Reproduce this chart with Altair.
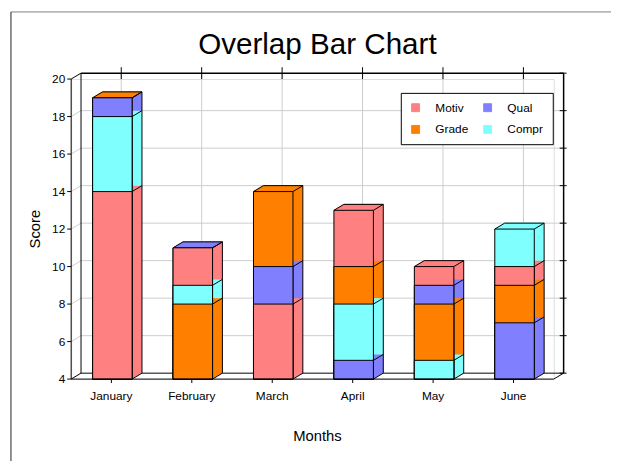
import altair as alt
import pandas as pd

months = ["January", "February", "March", "April", "May", "June"]
series = ["Motiv", "Grade", "Qual", "Compr"]
colors = ["#FF8080", "#FF8000", "#8080FF", "#80FFFF"]
motiv = [14, 11, 8, 13, 10, 10]
qual = [19, 11, 10, 5, 9, 7]
grade = [19, 8, 14, 10, 8, 9]
compr = [18, 9, None, 8, 5, 12]
yticks = [4, 6, 8, 10, 12, 14, 16, 18, 20]
inner_ticks = [6, 8, 10, 12, 14, 16, 18]
tie_rank = ["Motiv", "Qual", "Grade", "Compr"]

vals = {"Motiv": motiv, "Qual": qual, "Grade": grade, "Compr": compr}
rows = []
for s in series:
    for m, v in zip(months, vals[s]):
        if v is not None:
            rows.append({"month": m, "series": s, "value": v, "rank": tie_rank.index(s)})
df = pd.DataFrame(rows)
# overlap drawing order: tallest first, so shorter bars stay visible in front
front_df = df.sort_values(["value", "rank"], ascending=[False, False]).copy()
front_df["pos"] = front_df.groupby("month").cumcount()
top_df = front_df[front_df["pos"] == 0]
mdf = pd.DataFrame({"month": months})
tdf = pd.DataFrame({"t": inner_ticks})
adf = pd.DataFrame({"t": yticks})
one = pd.DataFrame({"a": [0]})

FONT = "Liberation Sans"
DX, DY = 10, -6
X0, X1 = -19, 21  # bar front-face edges relative to band centre

xs = alt.Scale(domain=months, paddingInner=0, paddingOuter=0)
ys = alt.Scale(domain=[4, 20], nice=False, zero=False)
XM = alt.X("month:N", scale=xs, axis=None)
YV = alt.Y("value:Q", scale=ys, axis=None, stack=None)

def YD(v):
    return alt.YDatum(v, scale=ys, axis=None)

color = alt.Color(
    "series:N",
    scale=alt.Scale(domain=series, range=colors),
    legend=alt.Legend(
        title=None, orient="none", legendX=334, legendY=14, columns=2,
        symbolType="square", symbolSize=64, symbolStrokeColor="black",
        symbolStrokeWidth=1, labelFont=FONT, labelFontSize=12, labelColor="black",
        labelOffset=14, columnPadding=13, rowPadding=10, padding=9,
        strokeColor="black", fillColor="white",
    ),
)

layers = []
# outer border (decorative)
layers.append(alt.Chart(one).mark_rule(color="#808080").encode(
    x=alt.value(-61), x2=alt.value(600), y=alt.value(-68)))
layers.append(alt.Chart(one).mark_rule(color="#222222").encode(
    x=alt.value(-61), y=alt.value(-68), y2=alt.value(500)))

# back-plane grid
layers.append(alt.Chart(tdf).mark_rule(color="#cccccc", xOffset=DX, x2Offset=DX, yOffset=DY).encode(
    x=alt.value(0), x2=alt.value("width"), y=alt.Y("t:Q", scale=ys, axis=None)))
layers.append(alt.Chart(tdf).mark_rule(color="#cccccc", x2Offset=DX, y2Offset=DY).encode(
    x=alt.value(0), x2=alt.value(0), y=alt.Y("t:Q", scale=ys, axis=None), y2="t:Q"))
layers.append(alt.Chart(mdf).mark_rule(color="#cccccc", xOffset=DX, yOffset=DY, y2Offset=DY).encode(
    x=XM, y=YD(20), y2=alt.datum(4)))

# back frame lines
layers.append(alt.Chart(one).mark_rule(color="black", strokeWidth=1.5, xOffset=DX, x2Offset=DX, yOffset=DY).encode(
    x=alt.value(0), x2=alt.value("width"), y=YD(20)))
layers.append(alt.Chart(one).mark_rule(color="black", xOffset=DX, x2Offset=DX, yOffset=DY).encode(
    x=alt.value(0), x2=alt.value("width"), y=YD(4)))
layers.append(alt.Chart(one).mark_rule(color="black", xOffset=DX, yOffset=DY, y2Offset=DY).encode(
    x=alt.value(0), y=YD(20), y2=alt.datum(4)))
layers.append(alt.Chart(one).mark_rule(color="black", strokeWidth=1.5, xOffset=DX, yOffset=DY, y2Offset=DY).encode(
    x=alt.value("width"), y=YD(20), y2=alt.datum(4)))
for v in (20, 4):
    layers.append(alt.Chart(one).mark_rule(color="black", x2Offset=DX, y2Offset=DY).encode(
        x=alt.value(0), x2=alt.value(0), y=YD(v), y2=alt.datum(v)))
layers.append(alt.Chart(one).mark_rule(color="black", x2Offset=DX, y2Offset=DY).encode(
    x=alt.value("width"), x2=alt.value("width"), y=YD(4), y2=alt.datum(4)))
layers.append(alt.Chart(adf).mark_rule(color="black", xOffset=DX - 4, x2Offset=DX + 3, yOffset=DY).encode(
    x=alt.value("width"), x2=alt.value("width"), y=alt.Y("t:Q", scale=ys, axis=None)))
layers.append(alt.Chart(mdf).mark_rule(color="black", xOffset=DX, yOffset=DY - 6, y2Offset=DY + 6).encode(
    x=XM, y=YD(20), y2=alt.datum(20)))

# 3D extrusion of every bar (side faces), tallest first within each month
steps = list(range(0, DX + 1))
for p in sorted(front_df["pos"].unique()):
    sub = front_df[front_df["pos"] == p]
    for k in steps:
        dy = DY * k / DX
        layers.append(alt.Chart(sub).mark_bar(size=40, xOffset=1 + k, yOffset=dy, y2Offset=dy,
                                              strokeWidth=0, opacity=1).encode(
            x=XM, y=YV, y2=alt.datum(4), color=color))
# top faces
for k in steps:
    dy = DY * k / DX
    layers.append(alt.Chart(top_df).mark_rule(strokeWidth=1.5, xOffset=X0 + k, x2Offset=X1 + k,
                                              yOffset=dy).encode(
        x=XM, x2=alt.X2("month:N"), y=YV, color=color))
# outlines of the 3D faces
layers.append(alt.Chart(front_df).mark_rule(color="black", xOffset=X1, x2Offset=X1 + DX, y2Offset=DY).encode(
    x=XM, x2=alt.X2("month:N"), y=YV, y2=alt.Y2("value:Q")))
layers.append(alt.Chart(top_df).mark_rule(color="black", xOffset=X0, x2Offset=X0 + DX, y2Offset=DY).encode(
    x=XM, x2=alt.X2("month:N"), y=YV, y2=alt.Y2("value:Q")))
layers.append(alt.Chart(top_df).mark_rule(color="black", xOffset=X0 + DX, x2Offset=X1 + DX, yOffset=DY).encode(
    x=XM, x2=alt.X2("month:N"), y=YV))
layers.append(alt.Chart(top_df).mark_rule(color="black", xOffset=X1 + DX, yOffset=DY, y2Offset=DY).encode(
    x=XM, y=YV, y2=alt.datum(4)))
layers.append(alt.Chart(top_df).mark_rule(color="black", xOffset=X1, x2Offset=X1 + DX, y2Offset=DY).encode(
    x=XM, x2=alt.X2("month:N"), y=YD(4), y2=alt.datum(4)))

# front faces
layers.append(alt.Chart(front_df).mark_bar(size=40, xOffset=1, stroke="black", strokeWidth=1,
                                           opacity=1).encode(
    x=XM, y=YV, y2=alt.datum(4), color=color))

# front axes
layers.append(alt.Chart(one).mark_rule(color="black").encode(x=alt.value(0), y=YD(20), y2=alt.datum(4)))
layers.append(alt.Chart(one).mark_rule(color="black").encode(
    x=alt.value(0), x2=alt.value("width"), y=YD(4)))
layers.append(alt.Chart(adf).mark_rule(color="black").encode(
    x=alt.value(-4), x2=alt.value(0), y=alt.Y("t:Q", scale=ys, axis=None)))
layers.append(alt.Chart(adf).mark_text(align="right", baseline="middle", font=FONT, fontSize=12,
                                       color="black").encode(
    x=alt.value(-6), y=alt.Y("t:Q", scale=ys, axis=None), text="t:Q"))
layers.append(alt.Chart(mdf).mark_rule(color="black", y2Offset=4).encode(
    x=XM, y=YD(4), y2=alt.datum(4)))
layers.append(alt.Chart(mdf).mark_text(align="center", baseline="middle", font=FONT, fontSize=12,
                                       color="black", dy=17).encode(
    x=XM, y=YD(4), text="month:N"))

# titles
layers.append(alt.Chart(one).mark_text(text="Score", angle=270, align="center", baseline="middle",
                                       font=FONT, fontSize=15, color="black").encode(
    x=alt.value(-37), y=alt.value(152)))
layers.append(alt.Chart(one).mark_text(text="Months", align="center", baseline="middle",
                                       font=FONT, fontSize=15, color="black").encode(
    x=alt.value(249.5), y=alt.value(362)))
layers.append(alt.Chart(one).mark_text(text="Overlap Bar Chart", align="center", baseline="alphabetic",
                                       font=FONT, fontSize=30, color="black").encode(
    x=alt.value(249.5), y=alt.value(-25)))

chart = alt.layer(*layers).properties(
    width=489, height=304,
    autosize=alt.AutoSizeParams(type="none"),
    padding={"left": 64, "top": 69, "right": 58, "bottom": 80},
).configure_view(stroke=None).configure(background="white")

chart.save("out.html", embed_options={"renderer": "svg", "actions": False})
